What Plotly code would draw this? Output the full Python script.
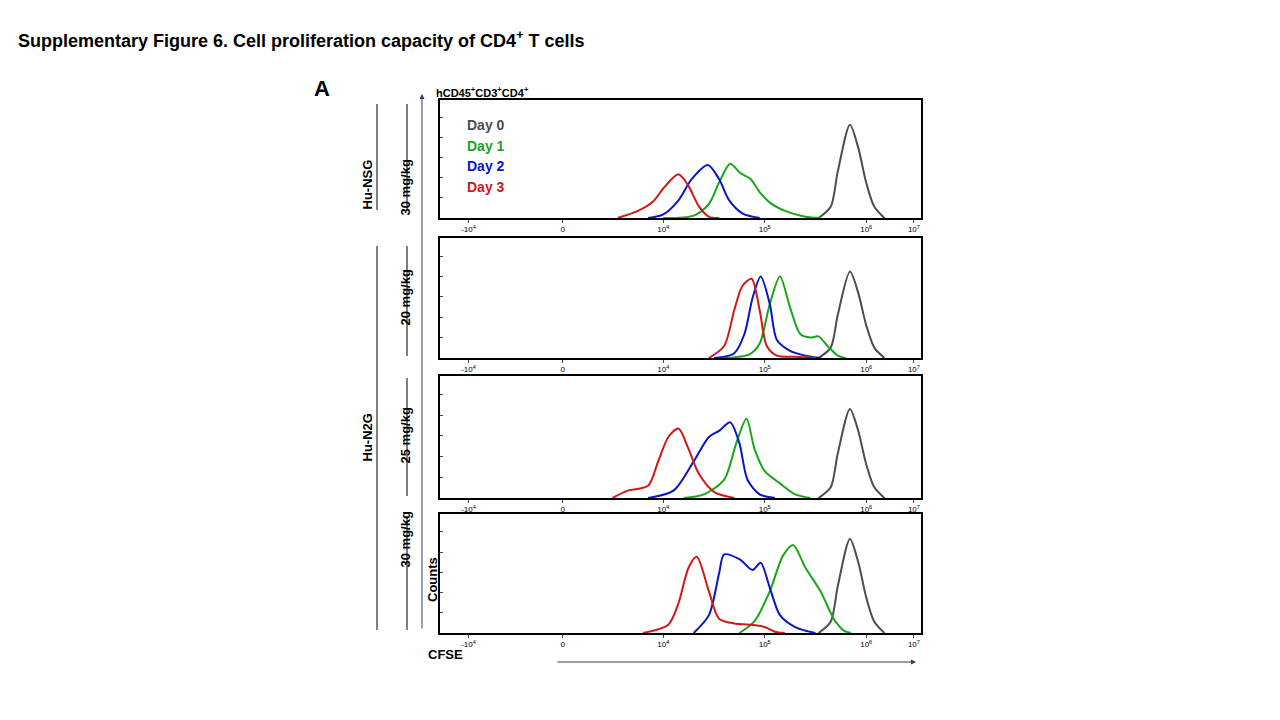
import plotly.graph_objects as go

# x in log10 display units (10^4 -> 4), y = normalized counts (panel height = 1)
day0_x = [5.53, 5.65, 5.72, 5.84, 5.92, 6.0, 6.08, 6.18]
day0_shape = [0, 0.12, 0.5, 1.0, 0.76, 0.38, 0.12, 0]
day0_peaks = [0.79, 0.72, 0.73, 0.79]

p1_green_x = [4.0, 4.3, 4.45, 4.55, 4.66, 4.76, 4.86, 4.95, 5.05, 5.2, 5.4, 5.55]
p1_green_y = [0, 0.02, 0.12, 0.3, 0.46, 0.38, 0.33, 0.22, 0.13, 0.06, 0.01, 0]
p1_blue_x = [3.85, 4.0, 4.15, 4.28, 4.44, 4.55, 4.65, 4.78, 4.95]
p1_blue_y = [0, 0.03, 0.15, 0.33, 0.45, 0.33, 0.15, 0.04, 0]
p1_red_x = [3.55, 3.75, 3.9, 4.0, 4.15, 4.25, 4.35, 4.45, 4.55]
p1_red_y = [0, 0.06, 0.14, 0.25, 0.37, 0.27, 0.1, 0.01, 0]

p2_green_x = [4.6, 4.85, 4.95, 5.05, 5.15, 5.25, 5.35, 5.45, 5.53, 5.62, 5.72, 5.8]
p2_green_y = [0, 0.03, 0.12, 0.45, 0.68, 0.42, 0.2, 0.17, 0.18, 0.1, 0.02, 0]
p2_blue_x = [4.5, 4.7, 4.8, 4.88, 4.96, 5.05, 5.12, 5.25, 5.4, 5.55]
p2_blue_y = [0, 0.04, 0.2, 0.5, 0.68, 0.45, 0.15, 0.06, 0.02, 0]
p2_red_x = [4.45, 4.6, 4.7, 4.78, 4.87, 4.95, 5.02, 5.12, 5.3, 5.5]
p2_red_y = [0, 0.1, 0.4, 0.6, 0.66, 0.4, 0.1, 0.02, 0.01, 0]

p3_green_x = [4.2, 4.4, 4.6, 4.72, 4.82, 4.9, 5.0, 5.15, 5.3, 5.45]
p3_green_y = [0, 0.03, 0.15, 0.45, 0.65, 0.4, 0.22, 0.12, 0.03, 0]
p3_blue_x = [3.85, 4.1, 4.3, 4.45, 4.55, 4.66, 4.75, 4.83, 4.95, 5.1]
p3_blue_y = [0, 0.06, 0.3, 0.5, 0.55, 0.62, 0.45, 0.15, 0.03, 0]
p3_red_x = [3.5, 3.65, 3.85, 3.95, 4.05, 4.15, 4.25, 4.35, 4.5, 4.7]
p3_red_y = [0, 0.06, 0.1, 0.3, 0.5, 0.57, 0.4, 0.2, 0.05, 0]

p4_green_x = [4.75, 4.9, 5.05, 5.18, 5.28, 5.4, 5.55, 5.68, 5.78, 5.85]
p4_green_y = [0, 0.1, 0.35, 0.65, 0.74, 0.55, 0.35, 0.12, 0.02, 0]
p4_blue_x = [4.3, 4.45, 4.55, 4.6, 4.75, 4.88, 4.96, 5.05, 5.15, 5.3, 5.5]
p4_blue_y = [0, 0.15, 0.5, 0.66, 0.62, 0.53, 0.59, 0.38, 0.15, 0.05, 0]
p4_red_x = [3.8, 4.05, 4.15, 4.25, 4.33, 4.45, 4.55, 4.7, 4.85, 5.0, 5.1, 5.2]
p4_red_y = [0, 0.07, 0.25, 0.55, 0.64, 0.35, 0.12, 0.08, 0.07, 0.05, 0.01, 0]

tick_vals = [2.08, 3.01, 4, 5, 6, 6.47]
tick_text = ["-10<sup>4</sup>", "0", "10<sup>4</sup>", "10<sup>5</sup>", "10<sup>6</sup>", "10<sup>7</sup>"]

panels = [
    (p1_green_x, p1_green_y, p1_blue_x, p1_blue_y, p1_red_x, p1_red_y),
    (p2_green_x, p2_green_y, p2_blue_x, p2_blue_y, p2_red_x, p2_red_y),
    (p3_green_x, p3_green_y, p3_blue_x, p3_blue_y, p3_red_x, p3_red_y),
    (p4_green_x, p4_green_y, p4_blue_x, p4_blue_y, p4_red_x, p4_red_y),
]
# panel pixel bounds (top, baseline)
panel_px = [(92, 210), (230, 350), (368, 490), (506, 625)]

GRAY, GREEN, BLUE, RED = "#4d4d4d", "#1aa51a", "#0a14c8", "#d01818"

fig = go.Figure()
layout = dict(width=1280, height=720, margin=dict(l=0, r=0, t=0, b=0),
              paper_bgcolor="white", plot_bgcolor="white", showlegend=False)

for i, (gx, gy, bx, by, rx, ry) in enumerate(panels):
    n = "" if i == 0 else str(i + 1)
    xa, ya = "x" + n, "y" + n
    series = [
        (day0_x, [v * day0_peaks[i] for v in day0_shape], GRAY),
        (gx, gy, GREEN), (bx, by, BLUE), (rx, ry, RED),
    ]
    for xs, ys, col in series:
        fig.add_trace(go.Scatter(x=xs, y=ys, mode="lines", xaxis=xa, yaxis=ya,
                                 line=dict(color=col, width=2, shape="spline", smoothing=0.8),
                                 hoverinfo="skip"))
    top, base = panel_px[i]
    layout["xaxis" + n] = dict(domain=[432 / 1280, 913 / 1280], range=[1.8, 6.54],
                               tickvals=tick_vals, ticktext=tick_text, ticks="outside",
                               ticklen=3, showgrid=False, zeroline=False, showline=True,
                               linecolor="black", linewidth=1.5, mirror=True,
                               tickfont=dict(family="Arial Black, Arial", size=8, color="black"),
                               anchor=ya)
    layout["yaxis" + n] = dict(domain=[1 - base / 720, 1 - top / 720], range=[0, 1],
                               showticklabels=False, ticks="inside", ticklen=3,
                               tickvals=[0.17, 0.34, 0.51, 0.68, 0.85],
                               showgrid=False, zeroline=False, showline=True,
                               linecolor="black", linewidth=1.5, mirror=True, anchor=xa)

fig.update_layout(**layout)

bold = dict(family="Arial", color="black")
ann = [
    dict(x=8, y=18, text="<b>Supplementary Figure 6. Cell proliferation capacity of CD4<sup>+</sup> T cells</b>",
         xanchor="left", font=dict(size=18, **bold)),
    dict(x=304, y=66, text="<b>A</b>", xanchor="left", font=dict(size=22, **bold)),
    dict(x=426, y=75, text="<b>hCD45<sup>+</sup>CD3<sup>+</sup>CD4<sup>+</sup></b>", xanchor="left",
         font=dict(size=11, **bold)),
    dict(x=418, y=656, text="<b>CFSE</b>", xanchor="left", font=dict(size=13, **bold)),
    dict(x=349, y=150, text="<b>Hu-NSG</b>", textangle=-90, font=dict(size=13, **bold)),
    dict(x=349, y=430, text="<b>Hu-N2G</b>", textangle=-90, font=dict(size=13, **bold)),
    dict(x=387, y=150, text="<b>30 mg/kg</b>", textangle=-90, font=dict(size=13, **bold)),
    dict(x=387, y=290, text="<b>20 mg/kg</b>", textangle=-90, font=dict(size=13, **bold)),
    dict(x=387, y=428, text="<b>25 mg/kg</b>", textangle=-90, font=dict(size=13, **bold)),
    dict(x=387, y=562, text="<b>30 mg/kg</b>", textangle=-90, font=dict(size=13, **bold)),
    dict(x=415, y=596, text="<b>Counts</b>", textangle=-90, font=dict(size=13, **bold)),
]
for name, col, yy in [("Day 0", GRAY, 107), ("Day 1", GREEN, 128), ("Day 2", BLUE, 148), ("Day 3", RED, 169)]:
    ann.append(dict(x=457, y=yy, text="<b>" + name + "</b>", xanchor="left",
                    font=dict(size=14, family="Arial", color=col)))
for a in ann:
    a.update(xref="paper", yref="paper", showarrow=False, x=a["x"] / 1280, y=1 - a["y"] / 720)
    fig.add_annotation(**a)

# bracket lines and axis arrows
for x0, y0, x1, y1 in [(369, 96, 369, 202), (369, 238, 369, 622), (399, 96, 399, 202),
                       (399, 238, 399, 348), (399, 370, 399, 488), (399, 508, 399, 622)]:
    fig.add_shape(type="line", xref="paper", yref="paper", x0=x0 / 1280, x1=x1 / 1280,
                  y0=1 - y0 / 720, y1=1 - y1 / 720, line=dict(color="black", width=1))
fig.add_annotation(xref="paper", yref="paper", axref="pixel", ayref="pixel",
                   x=414 / 1280, y=1 - 86 / 720, ax=0, ay=536,
                   showarrow=True, arrowhead=2, arrowsize=1, arrowwidth=1, text="")
fig.add_annotation(xref="paper", yref="paper", axref="pixel", ayref="pixel",
                   x=908 / 1280, y=1 - 654 / 720, ax=-360, ay=0,
                   showarrow=True, arrowhead=2, arrowsize=1, arrowwidth=1, text="")

fig.write_html("out.html")
